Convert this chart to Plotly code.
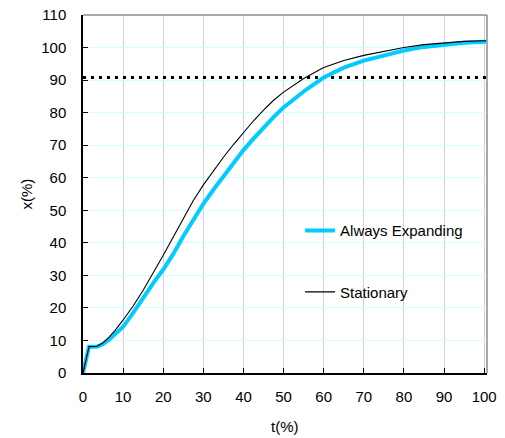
import plotly.graph_objects as go

# ---- data ----
t_stationary = [0, 1.5, 3.5, 5, 6.5, 8, 10, 12.5, 15, 17.5, 20, 22.5, 25, 27.5, 30, 32.5, 35,
                37.5, 40, 42.5, 45, 47.5, 50, 55, 60, 65, 70, 75, 80, 85, 90, 95, 100, 100.5]
x_stationary = [0, 8.1, 8.2, 9.3, 11.0, 13.1, 16.3, 20.6, 25.4, 30.6, 36.2, 41.8, 47.6, 53.0,
                57.8, 62.2, 66.3, 70.2, 74.0, 77.5, 80.8, 83.8, 86.3, 90.5, 93.9, 96.0, 97.6,
                98.9, 100.0, 100.9, 101.5, 101.9, 102.1, 102.1]

t_expanding = [0, 1.5, 3.5, 5, 6.5, 8, 10, 12.5, 15, 17.5, 20, 22.5, 25, 27.5, 30, 32.5, 35,
               37.5, 40, 42.5, 45, 47.5, 50, 55, 60, 65, 70, 75, 80, 85, 90, 95, 100, 100.5]
x_expanding = [0, 8.1, 8.1, 8.9, 10.2, 11.9, 14.2, 18.5, 23.2, 27.6, 31.8, 36.6, 42.0, 47.0,
               52.0, 56.3, 60.5, 64.8, 68.5, 72.0, 75.5, 78.6, 81.6, 86.5, 90.8, 93.8, 96.0,
               97.7, 99.1, 100.2, 101.0, 101.5, 101.8, 101.8]

threshold_t = [0, 100.7]
threshold_x = [90.8, 90.8]

series_names = ["Always Expanding", "Stationary"]
x_ticks = [0, 10, 20, 30, 40, 50, 60, 70, 80, 90, 100]
y_ticks = [0, 10, 20, 30, 40, 50, 60, 70, 80, 90, 100, 110]
x_title = "t(%)"
y_title = "x(%)"

FONT = "Liberation Sans, Arial, sans-serif"

fig = go.Figure()

fig.add_trace(go.Scatter(
    x=threshold_t, y=threshold_x, mode="lines",
    line=dict(color="black", width=3, dash="3px,5px"),
    showlegend=False, hoverinfo="skip"))

fig.add_trace(go.Scatter(
    x=t_expanding, y=x_expanding, mode="lines", name=series_names[0],
    line=dict(color="#00CCFF", width=4), legendgroup="a"))

fig.add_trace(go.Scatter(
    x=t_stationary, y=x_stationary, mode="lines", name=series_names[1],
    line=dict(color="black", width=1.1), legendgroup="b"))

# page body has an 8px default margin: size the figure so it fills the window
OFF = 8
W, H = 505 - OFF, 438 - OFF
# plot area in window pixels: left 82.5, right 487.3, top 15, bottom 372.7
L, T = 82.5 - OFF, 15 - OFF
R, B = 505 - 487.3, 438 - 372.7
pw = W - L - R
ph = H - T - B

def px_to_paper_x(px):  # px = window pixel
    return (px - OFF - L) / pw

def px_to_paper_y(py):
    return (H - B - (py - OFF)) / ph

fig.update_layout(
    width=W, height=H,
    margin=dict(l=L, r=R, t=T, b=B, pad=0, autoexpand=False),
    paper_bgcolor="white", plot_bgcolor="white",
    font=dict(family=FONT, size=15, color="black"),
    showlegend=True,
    legend=dict(
        x=px_to_paper_x(300), y=px_to_paper_y(214), xanchor="left", yanchor="top",
        bgcolor="rgba(0,0,0,0)", borderwidth=0,
        font=dict(family=FONT, size=15, color="black"),
        tracegroupgap=39, traceorder="grouped",
    ),
    xaxis=dict(
        range=[0, 100.7], tickmode="array", tickvals=x_ticks, automargin=False,
        ticks="inside", ticklen=5, tickcolor="black", tickwidth=1,
        showline=True, linecolor="black", linewidth=1.5,
        showgrid=True, gridcolor="#CCCCFF", gridwidth=1,
        zeroline=False, ticklabelstandoff=9, ticklabeloverflow="allow",
    ),
    yaxis=dict(
        range=[0, 110], tickmode="array", tickvals=y_ticks, automargin=False,
        ticks="inside", ticklen=5, tickcolor="black", tickwidth=1,
        showline=True, linecolor="black", linewidth=1.5,
        showgrid=True, gridcolor="#D4FFFF", gridwidth=1,
        zeroline=False, ticklabelstandoff=12, ticklabeloverflow="allow",
    ),
    shapes=[
        # white legend backdrop (over gridlines, under traces)
        dict(type="rect", xref="paper", yref="paper",
             x0=px_to_paper_x(280), x1=1, y0=px_to_paper_y(323), y1=px_to_paper_y(198),
             fillcolor="white", line=dict(width=0), layer="between"),
        # gray top and right border
        dict(type="line", xref="paper", yref="paper", x0=0, x1=1, y0=1, y1=1,
             line=dict(color="#8C8C8C", width=1.5), layer="above"),
        dict(type="line", xref="paper", yref="paper", x0=1, x1=1, y0=0, y1=1,
             line=dict(color="#8C8C8C", width=1.5), layer="above"),
    ],
    annotations=[
        dict(text=x_title, xref="paper", yref="paper", x=0.5, y=px_to_paper_y(426),
             xanchor="center", yanchor="middle", showarrow=False,
             font=dict(family=FONT, size=15, color="black")),
        dict(text=y_title, xref="paper", yref="paper", x=px_to_paper_x(25), y=0.5,
             xanchor="center", yanchor="middle", showarrow=False, textangle=-90,
             font=dict(family=FONT, size=15, color="black")),
    ],
)

fig.write_html("out.html")
